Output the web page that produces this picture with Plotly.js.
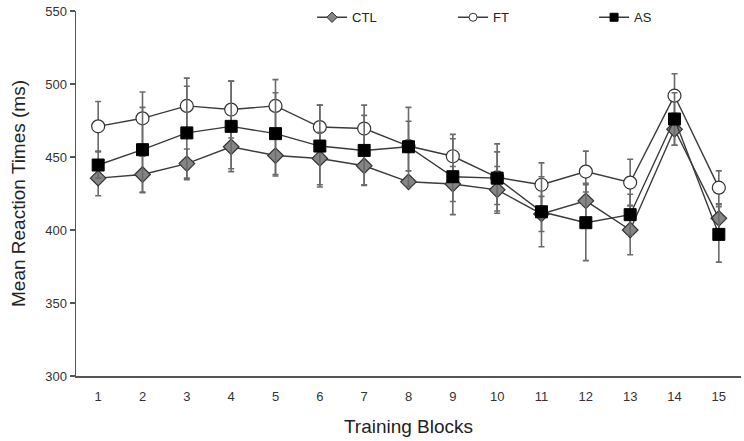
<!DOCTYPE html>
<html>
<head>
<meta charset="utf-8">
<script src="https://cdn.plot.ly/plotly-3.0.1.min.js"></script>
<style>
  html, body { margin: 0; padding: 0; background: #fff; }
  #chart { width: 744px; height: 441px; }
</style>
</head>
<body>
<div id="chart"></div>
<script>
// training blocks
const blocks = [1, 2, 3, 4, 5, 6, 7, 8, 9, 10, 11, 12, 13, 14, 15];

// mean reaction times (ms) per group
const ctlMean = [435.5, 438, 445.5, 457, 451, 449, 444, 433, 431.5, 427.5, 411, 420, 400, 469, 408];
const ctlErr  = [12, 12.5, 10, 15, 14, 18, 13, 3, 12, 16, 12, 12, 17, 11, 10];

const ftMean = [471, 476.5, 485, 482.5, 485, 470.5, 469.5, 457.5, 450.5, 436, 431, 440, 432.5, 492, 429];
const ftErr  = [17, 18, 19, 19.5, 18, 15, 16, 17, 15, 23, 15, 14, 16, 15, 11.5];

const asMean = [444.5, 455, 466.5, 471, 466, 457.5, 454.5, 457, 436.5, 435.5, 412.5, 405, 410.5, 476, 397];
const asErr  = [9, 29, 32, 31, 28, 28, 24, 27, 26, 18, 24, 26, 14, 18, 19];

const yTicks = [300, 350, 400, 450, 500, 550];

const lineCol = "#3a3a3a";
const errCol = "#6a6a6a";

function groupTrace(name, y, err, marker) {
    return {
        x: blocks,
        y: y,
        name: name,
        mode: "lines+markers",
        showlegend: false,
        line: { color: lineCol, width: 1.4 },
        marker: marker,
        error_y: {
            type: "data",
            array: err,
            visible: true,
            color: errCol,
            thickness: 1.6,
            width: 3
        }
    };
}

// legend-only entries with smaller symbols
function legendTrace(name, marker) {
    return {
        x: [null],
        y: [null],
        name: name,
        mode: "lines+markers",
        line: { color: lineCol, width: 1.4 },
        marker: marker
    };
}

const ctlMarker = { symbol: "diamond", size: 12, color: "#858585", line: { color: "#333", width: 1.2 } };
const ftMarker  = { symbol: "circle", size: 13, color: "#ffffff", line: { color: "#333", width: 1.2 } };
const asMarker  = { symbol: "square", size: 12, color: "#000000", line: { color: "#000", width: 1 } };

const traces = [
    groupTrace("FT", ftMean, ftErr, ftMarker),
    groupTrace("CTL", ctlMean, ctlErr, ctlMarker),
    groupTrace("AS", asMean, asErr, asMarker),
    legendTrace("CTL", { symbol: "diamond", size: 8, color: "#858585", line: { color: "#333", width: 1 } }),
    legendTrace("FT", { symbol: "circle", size: 8, color: "#ffffff", line: { color: "#333", width: 1 } }),
    legendTrace("AS", { symbol: "square", size: 8, color: "#000000", line: { color: "#000", width: 1 } })
];

const layout = {
    width: 744,
    height: 441,
    margin: { l: 76, r: 3, t: 10, b: 65 },
    paper_bgcolor: "#ffffff",
    plot_bgcolor: "#ffffff",
    font: { family: "Liberation Sans, Arial, sans-serif", color: "#333", size: 13 },
    xaxis: {
        range: [0.5, 15.5],
        tickvals: blocks,
        ticktext: blocks.map(String),
        ticks: "",
        showgrid: false,
        zeroline: false,
        showline: true,
        linecolor: "#555",
        linewidth: 1.5,
        ticklabelstandoff: 8,
        tickfont: { size: 13, color: "#333" },
        title: { text: "Training Blocks", font: { size: 19, color: "#222" }, standoff: 16 }
    },
    yaxis: {
        range: [300, 550],
        tickvals: yTicks,
        ticks: "outside",
        ticklen: 5,
        tickcolor: "#555",
        tickwidth: 1.2,
        showgrid: false,
        zeroline: false,
        showline: true,
        linecolor: "#555",
        linewidth: 1.5,
        tickfont: { size: 13, color: "#333" },
        title: { text: "Mean Reaction Times (ms)", font: { size: 19, color: "#222" }, standoff: 14 }
    },
    showlegend: true,
    legend: {
        orientation: "h",
        x: 0.355,
        xanchor: "left",
        y: 1.021,
        yanchor: "top",
        entrywidth: 96,
        entrywidthmode: "pixels",
        font: { size: 13, color: "#222" },
        bgcolor: "rgba(0,0,0,0)",
        itemsizing: "trace"
    }
};

Plotly.newPlot("chart", traces, layout, { displayModeBar: false, staticPlot: true });
</script>
</body>
</html>
